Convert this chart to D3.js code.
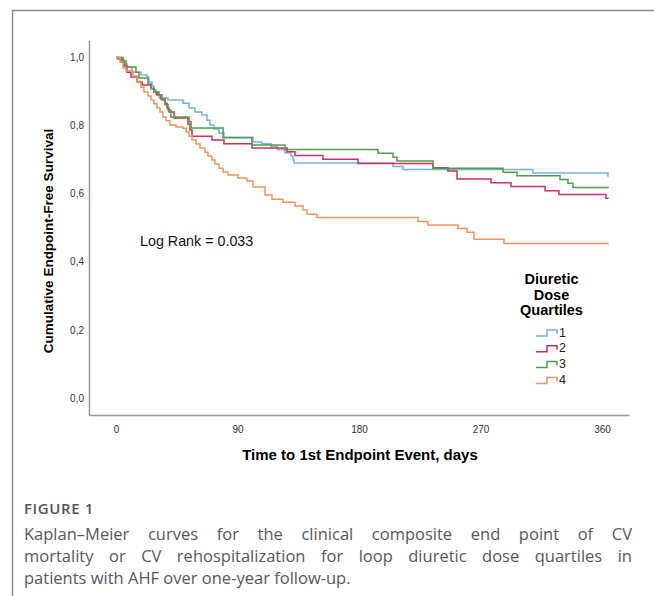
<!DOCTYPE html>
<html>
<head>
<meta charset="utf-8">
<script src="https://cdn.jsdelivr.net/npm/d3@7"></script>
<style>
  html, body { margin: 0; padding: 0; background: #fff; }
  svg { display: block; }
</style>
</head>
<body>
<svg id="chart" width="654" height="596"></svg>
<script>
// ---------------- DATA ----------------
const quartiles = ["1", "2", "3", "4"];
const followUpEnd = 365;               // days
const xTicks = [0, 90, 180, 270, 360];
const yTicks = [0, 0.2, 0.4, 0.6, 0.8, 1.0];
const logRankText = "Log Rank = 0.033";

// Kaplan–Meier step times (days) and survival after each step
const q1Times = [4.4, 5.9, 8.1, 11.9, 18.5, 23.0, 24.4, 26.7, 28.1, 29.6, 31.9, 38.5, 49.6, 54.1, 58.5, 63.7, 67.4, 69.6, 72.6, 76.3, 80.0, 101.5, 108.1, 114.8, 119.3, 125.2, 129.6, 131.1, 131.9, 205.2, 212.6, 308.9, 364.4];
const q1Surv  = [0.993, 0.981, 0.972, 0.957, 0.949, 0.943, 0.928, 0.916, 0.905, 0.893, 0.881, 0.875, 0.866, 0.852, 0.840, 0.831, 0.816, 0.802, 0.790, 0.778, 0.766, 0.752, 0.747, 0.739, 0.730, 0.720, 0.711, 0.699, 0.690, 0.680, 0.671, 0.661, 0.652];

const q2Times = [1.5, 3.7, 5.9, 8.1, 11.1, 15.6, 19.3, 25.9, 28.1, 30.4, 33.3, 36.3, 37.8, 39.3, 43.0, 53.3, 54.8, 56.3, 71.1, 80.0, 100.7, 126.7, 132.6, 153.3, 179.3, 234.8, 245.9, 252.6, 277.8, 292.6, 317.8, 328.1, 362.9];
const q2Surv  = [0.996, 0.987, 0.975, 0.957, 0.943, 0.928, 0.919, 0.908, 0.899, 0.890, 0.878, 0.866, 0.852, 0.840, 0.822, 0.805, 0.787, 0.769, 0.758, 0.747, 0.734, 0.723, 0.712, 0.701, 0.689, 0.676, 0.667, 0.643, 0.632, 0.621, 0.609, 0.598, 0.587];

const q3Times = [5.2, 7.4, 14.8, 17.0, 23.7, 25.9, 28.1, 31.9, 34.1, 36.3, 38.5, 40.7, 54.1, 55.6, 79.3, 100.7, 125.2, 194.1, 205.2, 208.1, 234.8, 286.7, 297.0, 328.9, 334.8, 338.5];
const q3Surv  = [0.990, 0.972, 0.957, 0.940, 0.922, 0.910, 0.899, 0.890, 0.875, 0.861, 0.846, 0.825, 0.811, 0.793, 0.764, 0.743, 0.730, 0.719, 0.707, 0.696, 0.675, 0.663, 0.653, 0.642, 0.631, 0.618];

const q4Times = [3.0, 5.2, 7.4, 12.6, 15.6, 18.5, 20.7, 23.7, 25.9, 28.1, 30.4, 32.6, 34.8, 37.0, 40.0, 44.4, 49.6, 51.9, 54.1, 56.3, 59.3, 62.2, 65.9, 68.1, 71.1, 73.3, 76.3, 79.3, 83.0, 90.4, 97.0, 101.5, 110.4, 115.6, 123.7, 132.6, 138.5, 141.5, 148.9, 223.7, 231.1, 253.3, 260.0, 265.2, 287.4];
const q4Surv  = [0.987, 0.969, 0.961, 0.946, 0.928, 0.913, 0.899, 0.887, 0.875, 0.864, 0.852, 0.840, 0.825, 0.814, 0.802, 0.796, 0.792, 0.781, 0.769, 0.758, 0.746, 0.734, 0.722, 0.711, 0.699, 0.687, 0.675, 0.664, 0.655, 0.646, 0.637, 0.620, 0.596, 0.584, 0.575, 0.564, 0.552, 0.540, 0.530, 0.518, 0.508, 0.498, 0.487, 0.466, 0.454];

const seriesTimes = [q1Times, q2Times, q3Times, q4Times];
const seriesSurv  = [q1Surv, q2Surv, q3Surv, q4Surv];
const seriesColors = ["#7aafe4", "#cc2f60", "#4f9e45", "#f1945b"];

const captionLabel = "FIGURE 1";
const captionLines = [
  "Kaplan\u2013Meier curves for the clinical composite end point of CV",
  "mortality or CV rehospitalization for loop diuretic dose quartiles in",
  "patients with AHF over one-year follow-up."
];

// ---------------- DRAW ----------------
const svg = d3.select("#chart");
const F = "'Liberation Sans', Arial, Helvetica, sans-serif";

// outer frame (top and left edges visible)
svg.append("path")
  .attr("d", "M12.5,596 V10.5 H654")
  .attr("fill", "none").attr("stroke", "#8a8a8a").attr("stroke-width", 1.5);

const x = d3.scaleLinear().domain([-20, 380]).range([89, 629]);
const y = d3.scaleLinear().domain([-0.05, 1.05]).range([415, 40.5]);

// axes
const xAxis = svg.append("g").attr("transform", "translate(0,415)")
  .call(d3.axisBottom(x).tickValues(xTicks).tickSize(0).tickSizeOuter(0).tickPadding(11));
const yAxis = svg.append("g").attr("transform", "translate(89,0)")
  .call(d3.axisLeft(y).tickValues(yTicks).tickSize(0).tickSizeOuter(0).tickPadding(5)
    .tickFormat(d => d3.format(".1f")(d).replace(".", ",")));
[xAxis, yAxis].forEach(g => {
  g.select(".domain").attr("stroke", "#999").attr("stroke-width", 1.5);
  g.selectAll("text").attr("font-family", F).attr("font-size", 10).attr("fill", "#333");
});

// curves
const line = d3.line().x(d => x(d[0])).y(d => y(d[1])).curve(d3.curveStepAfter);
quartiles.forEach((q, i) => {
  const pts = [[0, 1]];
  seriesTimes[i].forEach((t, j) => pts.push([t, seriesSurv[i][j]]));
  pts.push([followUpEnd, seriesSurv[i][seriesSurv[i].length - 1]]);
  svg.append("path").datum(pts)
    .attr("d", line)
    .attr("fill", "none")
    .attr("stroke", seriesColors[i])
    .attr("stroke-width", 1.5);
});

// axis titles
svg.append("text")
  .attr("x", 360).attr("y", 460)
  .attr("text-anchor", "middle")
  .attr("font-family", F).attr("font-weight", "bold").attr("font-size", 15)
  .attr("fill", "#000")
  .text("Time to 1st Endpoint Event, days");

svg.append("text")
  .attr("transform", "translate(53,241) rotate(-90)")
  .attr("text-anchor", "middle")
  .attr("font-family", F).attr("font-weight", "bold").attr("font-size", 13.5)
  .attr("fill", "#000")
  .text("Cumulative Endpoint-Free Survival");

// log rank annotation
svg.append("text")
  .attr("x", 140).attr("y", 246)
  .attr("font-family", F).attr("font-size", 14.3)
  .attr("fill", "#111")
  .text(logRankText);

// legend
const legTitle = ["Diuretic", "Dose", "Quartiles"];
legTitle.forEach((s, i) => {
  svg.append("text")
    .attr("x", 551.5).attr("y", 284 + i * 15.5)
    .attr("text-anchor", "middle")
    .attr("font-family", F).attr("font-weight", "bold").attr("font-size", 14.5)
    .attr("fill", "#000")
    .text(s);
});
quartiles.forEach((q, i) => {
  const cy = 332 + i * 15.8;
  svg.append("path")
    .attr("d", `M536,${cy + 4} H547 V${cy - 2} H557 V${cy + 2}`)
    .attr("fill", "none").attr("stroke", seriesColors[i]).attr("stroke-width", 1.5);
  svg.append("text")
    .attr("x", 559).attr("y", cy + 4.5)
    .attr("font-family", F).attr("font-size", 12.5)
    .attr("fill", "#222")
    .text(q);
});

// caption
const CF = "'Open Sans', 'Noto Sans', sans-serif";
svg.append("text")
  .attr("x", 24).attr("y", 514)
  .attr("font-family", CF).attr("font-weight", 600).attr("font-size", 15)
  .attr("letter-spacing", 0.6)
  .attr("fill", "#555")
  .text(captionLabel);

captionLines.forEach((s, i) => {
  const t = svg.append("text")
    .attr("x", 24).attr("y", 540 + i * 22)
    .attr("font-family", CF).attr("font-size", 16.5)
    .attr("fill", "#585858")
    .text(s);
  if (i < captionLines.length - 1) {
    const len = t.node().getComputedTextLength();
    const spaces = (s.match(/ /g) || []).length;
    const extra = (608 - len) / spaces;
    t.attr("word-spacing", extra);
  }
});
</script>
</body>
</html>
